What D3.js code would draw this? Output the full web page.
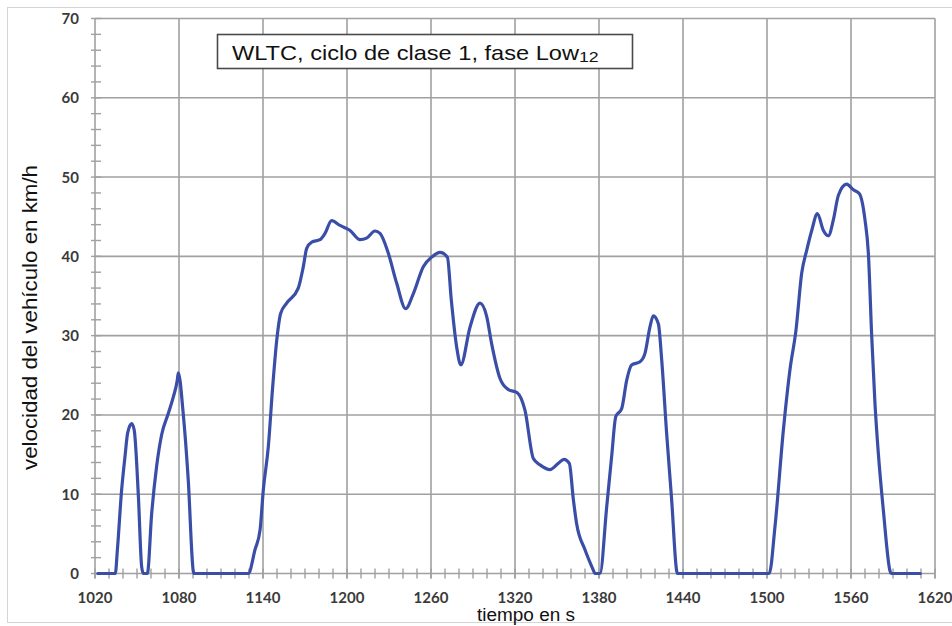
<!DOCTYPE html>
<html><head><meta charset="utf-8">
<script src="https://cdn.jsdelivr.net/npm/d3@7"></script>
<style>
html,body{margin:0;padding:0;background:#fff;}
svg{display:block;}
</style></head>
<body>
<svg id="chart" width="952" height="626"></svg>
<script>
// ---- data ----
const timeS = [1022,1034.5,1036,1039,1041.4,1043.3,1046.2,1048,1051,1053.3,1054.5,1057.4,1060.5,1064,1067.6,1072.4,1076,1078.8,1079.5,1083,1086.6,1090.2,1090.8,
  1129.5,1134.3,1137.9,1140.2,1143.8,1146.9,1149.8,1152.6,1156.9,1165.2,1168.8,1171.2,1174.8,1180.7,1184.3,1189,1195,1202,1209.3,1214,1220,1223.6,1229.5,1235.5,1241.9,1247.4,1254.5,1260.5,1266.4,1271.7,1274.5,1278.3,1281.3,1287.9,1295,1299.8,1303.3,1309.3,1315.2,1321.6,1327.1,1333.1,1337.9,1345,1351,1355,1358.8,1361.7,1364,1370,1376,1377,
  1380.7,1385.5,1389,1392,1396.2,1399.8,1403.3,1409.3,1412.9,1416.4,1418.8,1422.4,1424.8,1428.3,1431.9,1435.5,1436.2,
  1501.6,1505.7,1511.7,1516.4,1520.7,1524.8,1528.4,1532,1536,1540.2,1543.8,1547.4,1551,1556.9,1561.7,1566,1570,1572.4,1574.8,1577.1,1579.5,1583.1,1587.9,1588.6,1609.5];
const speedKmh = [0,0,3,10.5,14.7,17.7,18.9,18.1,9.7,0.9,0,0,7.6,13.5,17.5,20.2,22.3,24.4,25.3,20.2,11.8,0.3,0,
  0,3,5.5,10.5,16,23.5,29.4,32.8,34.1,36,38.7,41,41.8,42.1,42.9,44.5,43.9,43.3,42.1,42.3,43.2,42.9,40.4,36.6,33.4,35.3,38.7,39.9,40.5,39.9,34.5,28.6,26.3,31.1,34.1,32.4,29,24.6,23.2,22.8,20.6,14.5,13.7,13.1,13.9,14.4,13.9,9.3,6.3,3,0.4,0,
  0,8.4,14.7,19.8,20.8,24.4,26.3,26.7,27.8,31.1,32.5,31.5,26.9,17.7,9.3,0.3,0,
  0,5.9,18.1,25.7,30.7,37.9,40.8,43.3,45.4,43.3,42.6,44.6,47.7,49.1,48.4,47.9,44.6,40.4,29.9,21.5,15.2,8,0.3,0,0];
const xTicks = [1020,1080,1140,1200,1260,1320,1380,1440,1500,1560,1620];
const yTicks = [0,10,20,30,40,50,60,70];
const titleMain = "WLTC, ciclo de clase 1, fase Low";
const titleSub = "12";
const yTitle = "velocidad del vehículo en km/h";
const xTitle = "tiempo en s";

const svg = d3.select("#chart");
const W = 952, H = 626;
const m = {left:95, right:17, top:18.5, bottom:52.5};
const x = d3.scaleLinear().domain([1020,1620]).range([m.left, W - m.right]);
const y = d3.scaleLinear().domain([0,70]).range([H - m.bottom, m.top]);
const gridCol = "#a0a0a0";
const sans = "'Liberation Sans', Arial, sans-serif";

// outer frame (right side runs off the picture)
svg.append("rect").attr("x",7.5).attr("y",7.5).attr("width",W).attr("height",615)
  .attr("fill","none").attr("stroke","#d4d4d4").attr("stroke-width",1);

// gridlines
svg.append("g").selectAll("line").data(yTicks).join("line")
  .attr("x1", x(1020)).attr("x2", x(1620)).attr("y1", d=>y(d)).attr("y2", d=>y(d))
  .attr("stroke", gridCol).attr("stroke-width",1.6);
svg.append("g").selectAll("line").data(xTicks).join("line")
  .attr("x1", d=>x(d)).attr("x2", d=>x(d)).attr("y1", y(70)).attr("y2", y(0)+5)
  .attr("stroke", gridCol).attr("stroke-width",1.6);

// minor ticks
const yMinor = d3.range(0,70.01,2);
svg.append("g").selectAll("line").data(yMinor).join("line")
  .attr("x1", x(1020)-4).attr("x2", x(1020)+6).attr("y1", d=>y(d)).attr("y2", d=>y(d))
  .attr("stroke", gridCol).attr("stroke-width",1.4);
const xMinor = d3.range(1020,1620.01,10);
svg.append("g").selectAll("line").data(xMinor).join("line")
  .attr("x1", d=>x(d)).attr("x2", d=>x(d)).attr("y1", y(0)-5).attr("y2", y(0)+5)
  .attr("stroke", gridCol).attr("stroke-width",1.4);

// tick labels
const tickFont = "Lato, 'Open Sans', sans-serif";
svg.append("g").selectAll("text").data(yTicks).join("text")
  .attr("x", 79).attr("y", d=>y(d)+5.5).attr("text-anchor","end")
  .attr("font-family", tickFont).attr("font-weight",700).attr("font-size",15).attr("fill","#3a3a3a")
  .text(d=>d);
svg.append("g").selectAll("text").data(xTicks).join("text")
  .attr("x", d=>x(d)).attr("y", 603).attr("text-anchor","middle")
  .attr("font-family", tickFont).attr("font-weight",700).attr("font-size",15).attr("fill","#3a3a3a")
  .text(d=>d);

// line
const line = d3.line().x((d,i)=>x(timeS[i])).y(d=>y(d)).curve(d3.curveMonotoneX);
svg.append("path").datum(speedKmh).attr("d", line)
  .attr("fill","none").attr("stroke","#3a4ea8").attr("stroke-width",3.2)
  .attr("stroke-linejoin","round").attr("stroke-linecap","round");

// title box
svg.append("rect").attr("x",217.5).attr("y",34.5).attr("width",415).attr("height",34)
  .attr("fill","#fff").attr("stroke","#4a4a4a").attr("stroke-width",1.6);
const t = svg.append("text").attr("transform","translate(232,59.5) scale(1.18,1)")
  .attr("font-family", sans).attr("font-size",20).attr("fill","#111");
t.append("tspan").text(titleMain);
t.append("tspan").attr("font-size",15).attr("dy",2.5).text(titleSub);

// axis titles
svg.append("text").attr("transform","translate(37,317.5) rotate(-90)").attr("text-anchor","middle")
  .attr("font-family", sans).attr("font-size",21).attr("fill","#111")
  .attr("textLength",305).attr("lengthAdjust","spacingAndGlyphs")
  .text(yTitle);
svg.append("text").attr("x",526).attr("y",621).attr("text-anchor","middle")
  .attr("font-family", sans).attr("font-size",18).attr("fill","#111")
  .attr("textLength",98).attr("lengthAdjust","spacingAndGlyphs")
  .text(xTitle);
</script>
</body></html>
